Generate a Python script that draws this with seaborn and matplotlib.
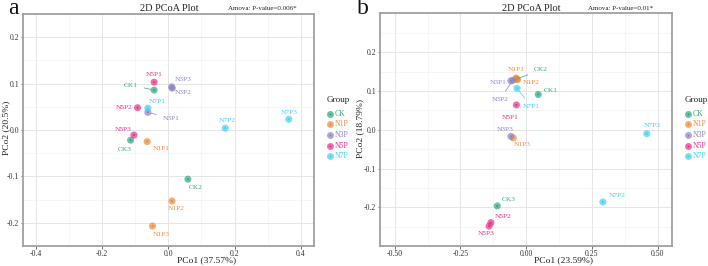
import matplotlib
matplotlib.use("Agg")
import matplotlib.pyplot as plt
from matplotlib.lines import Line2D
from matplotlib.ticker import MultipleLocator, FormatStrFormatter, FixedLocator
import seaborn as sns
import pandas as pd

# ---------------- data ----------------
groups = ["CK", "N1P", "N3P", "N5P", "N7P"]
colors = ["#2fa880", "#f08a38", "#8c84c4", "#e8318b", "#42d0f0"]

samples_a = ["CK1", "CK2", "CK3", "N1P1", "N1P2", "N1P3", "N3P1", "N3P2", "N3P3",
             "N5P1", "N5P2", "N5P3", "N7P1", "N7P2", "N7P3"]
pco1_a = [-0.043, 0.059, -0.114, -0.064, 0.011, -0.048, -0.062, 0.012, 0.010,
          -0.043, -0.093, -0.104, -0.062, 0.172, 0.364]
pco2_a = [0.086, -0.106, -0.022, -0.025, -0.153, -0.207, 0.038, 0.090, 0.093,
          0.103, 0.048, -0.011, 0.047, 0.004, 0.023]

samples_b = ["CK1", "CK2", "CK3", "N1P1", "N1P2", "N1P3", "N3P1", "N3P2", "N3P3",
             "N5P1", "N5P2", "N5P3", "N7P1", "N7P2", "N7P3"]
pco1_b = [0.046, -0.036, -0.110, -0.039, -0.033, -0.049, -0.058, -0.051, -0.058,
          -0.037, -0.134, -0.141, -0.035, 0.292, 0.459]
pco2_b = [0.091, 0.131, -0.196, 0.133, 0.129, -0.021, 0.126, 0.127, -0.017,
          0.064, -0.239, -0.248, 0.107, -0.186, -0.010]

xticks_a = [-0.4, -0.2, 0.0, 0.2, 0.4]
yticks_a = [-0.2, -0.1, 0.0, 0.1, 0.2]
xticks_b = [-0.50, -0.25, 0.00, 0.25, 0.50]
yticks_b = [-0.2, -0.1, 0.0, 0.1, 0.2]

xlabel_a, ylabel_a, pval_a = "PCo1 (37.57%)", "PCo2 (20.5%)", "Amova: P-value=0.006*"
xlabel_b, ylabel_b, pval_b = "PCo1 (23.59%)", "PCo2 (18.79%)", "Amova: P-value=0.01*"
title = "2D PCoA Plot"

# label offsets (pixels, right / down) and leader-line flags (style, repel-like)
offs_a = {"CK1": (-23, -5, 1), "CK2": (8, 8, 0), "CK3": (-6, 9, 0), "N1P1": (14, 7, 0),
          "N1P2": (4, 8, 0), "N1P3": (9, 8, 0), "N3P1": (23, 6, 1), "N3P2": (11, 4, 0),
          "N3P3": (11, -7, 0), "N5P1": (0, -8, 0), "N5P2": (-13, 0, 0), "N5P3": (-11, -6, 0),
          "N7P1": (9, -7, 0), "N7P2": (2, -8, 0), "N7P3": (0, -7, 0)}
offs_b = {"CK1": (13, -4, 0), "CK2": (24, -9, 1), "CK3": (11, -6, 0), "N1P1": (0, -9, 0),
          "N1P2": (14, 3, 0), "N1P3": (9, 7, 0), "N3P1": (-13, 2, 0), "N3P2": (-13, 19, 1),
          "N3P3": (-6, -7, 0), "N5P1": (-6, 13, 0), "N5P2": (12, -6, 0), "N5P3": (-3, 7, 0),
          "N7P1": (14, 18, 1), "N7P2": (14, -7, 0), "N7P3": (5, -8, 0)}

df_a = pd.DataFrame({"sample": samples_a, "x": pco1_a, "y": pco2_a})
df_a["group"] = [("CK" if s.startswith("CK") else s[:3]) for s in samples_a]
df_b = pd.DataFrame({"sample": samples_b, "x": pco1_b, "y": pco2_b})
df_b["group"] = [("CK" if s.startswith("CK") else s[:3]) for s in samples_b]
pal = dict(zip(groups, colors))

# ---------------- figure ----------------
sns.set_theme(style="white")
plt.rcParams["font.family"] = ["Liberation Serif", "DejaVu Serif"]
W, H = 708, 266
fig = plt.figure(figsize=(W / 100, H / 100), dpi=100)

def px_axes(l, t, r, b):
    return fig.add_axes([l / W, 1 - b / H, (r - l) / W, (b - t) / H])

ax_a = px_axes(22.7, 14, 314, 246)
ax_b = px_axes(380, 13.3, 672.3, 246.3)

def style_axes(ax, xlim, ylim, xt, yt, xfmt, yfmt):
    ax.set_xlim(*xlim)
    ax.set_ylim(*ylim)
    ax.xaxis.set_major_locator(FixedLocator(xt))
    ax.yaxis.set_major_locator(FixedLocator(yt))
    ax.xaxis.set_minor_locator(MultipleLocator((xt[1] - xt[0]) / 2))
    ax.yaxis.set_minor_locator(MultipleLocator((yt[1] - yt[0]) / 2))
    ax.xaxis.set_major_formatter(FormatStrFormatter(xfmt))
    ax.yaxis.set_major_formatter(FormatStrFormatter(yfmt))
    ax.grid(which="major", color="#e6e6e6", lw=0.7)
    ax.grid(which="minor", color="#f0f0f0", lw=0.4)
    ax.set_axisbelow(True)
    for sp in ax.spines.values():
        sp.set_color("#a0a0a0")
        sp.set_linewidth(1.3)
    ax.tick_params(which="major", length=1.8, width=0.6, color="#555555",
                   labelsize=5.6, labelcolor="#333333", pad=0.8, bottom=True, left=True)
    ax.tick_params(which="minor", length=0)
    ax.set_xlabel("")
    ax.set_ylabel("")

def draw(ax, df, offs):
    sns.scatterplot(data=df, x="x", y="y", hue="group", hue_order=groups, palette=pal,
                    s=26, alpha=0.7, linewidth=0, legend=False, ax=ax, zorder=3)
    sns.scatterplot(data=df, x="x", y="y", hue="group", hue_order=groups, palette=pal,
                    s=2.5, alpha=1, linewidth=0, legend=False, ax=ax, zorder=4)
    for _, r in df.iterrows():
        dx, dy, lead = offs[r["sample"]]
        c = pal[r["group"]]
        kw = {}
        if lead:
            kw["arrowprops"] = dict(arrowstyle="-", color=c, lw=0.5, shrinkA=2, shrinkB=2)
        ax.annotate(r["sample"], xy=(r["x"], r["y"]), xytext=(dx, -dy),
                    textcoords="offset pixels", ha="center", va="center",
                    fontsize=5.3, color=c, zorder=5, **kw)

draw(ax_a, df_a, offs_a)
draw(ax_b, df_b, offs_b)
style_axes(ax_a, (-0.44, 0.44), (-0.25, 0.25), xticks_a, yticks_a, "%.1f", "%.1f")
style_axes(ax_b, (-0.556, 0.556), (-0.3, 0.3), xticks_b, yticks_b, "%.2f", "%.1f")

def ftext(x, y, s, **kw):
    fig.text(x / W, 1 - y / H, s, **kw)

# titles, p-values, axis labels, panel letters
ftext(169, 8.5, title, ha="center", va="center", fontsize=7.4, color="#222222")
ftext(262, 8.5, pval_a, ha="center", va="center", fontsize=5.0, color="#222222")
ftext(531, 8.5, title, ha="center", va="center", fontsize=7.4, color="#222222")
ftext(621, 8.5, pval_b, ha="center", va="center", fontsize=5.0, color="#222222")
ftext(207, 260.5, xlabel_a, ha="center", va="center", fontsize=6.8, color="#222222")
ftext(563, 260.5, xlabel_b, ha="center", va="center", fontsize=6.8, color="#222222")
ftext(6, 128, ylabel_a, ha="center", va="center", rotation=90, fontsize=6.8, color="#222222")
ftext(360, 128, ylabel_b, ha="center", va="center", rotation=90, fontsize=6.8, color="#222222")
ftext(13, 9, "a", ha="center", va="center", fontsize=17, color="#111111")
ftext(363, 9, "b", ha="center", va="center", fontsize=17, color="#111111")

# legends
def legend(x0, y_title):
    ftext(x0 - 3, y_title, "Group", ha="left", va="center", fontsize=6.6, color="#222222")
    for i, (g, c) in enumerate(zip(groups, colors)):
        yy = y_title + 13.5 + i * 10.7
        fig.add_artist(Line2D([x0 / W], [1 - yy / H], marker="o", markersize=5.0,
                              color=c, alpha=0.7, markeredgewidth=0, transform=fig.transFigure))
        fig.add_artist(Line2D([x0 / W], [1 - yy / H], marker="o", markersize=1.5,
                              color=c, markeredgewidth=0, transform=fig.transFigure))
        ftext(x0 + 5, yy, g, ha="left", va="center", fontsize=5.6, color=c)

legend(329.5, 100)
legend(687.5, 100)

fig.savefig("out.png", dpi=100)
